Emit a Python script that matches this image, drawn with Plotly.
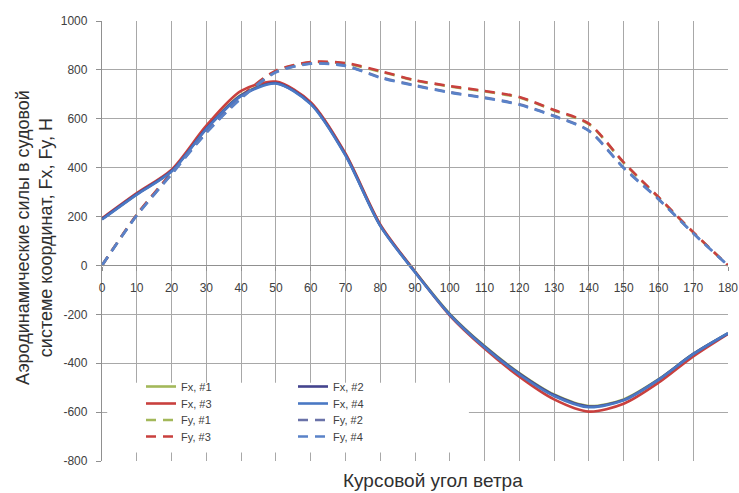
import plotly.graph_objects as go

angles = [0, 10, 20, 30, 40, 50, 60, 70, 80, 90, 100, 110, 120, 130, 140, 150, 160, 170, 180]

fx1 = [190, 292, 388, 562, 698, 748, 665, 455, 165, -25, -198, -330, -440, -528, -575, -548, -466, -362, -278]
fx2 = [190, 292, 386, 560, 696, 746, 662, 452, 163, -27, -200, -332, -442, -530, -577, -550, -467, -362, -278]
fx3 = [193, 296, 392, 572, 714, 752, 668, 458, 168, -25, -205, -340, -455, -548, -598, -566, -480, -372, -280]
fx4 = [188, 290, 384, 558, 693, 744, 660, 450, 162, -28, -202, -335, -446, -534, -580, -552, -468, -363, -277]

fy1 = [0, 207, 378, 548, 690, 795, 830, 826, 793, 757, 732, 712, 687, 634, 578, 420, 278, 135, 0]
fy2 = [0, 205, 374, 544, 685, 792, 826, 818, 770, 737, 709, 687, 659, 612, 552, 400, 272, 132, 0]
fy3 = [0, 208, 380, 550, 692, 797, 832, 828, 795, 758, 734, 714, 689, 636, 580, 422, 280, 136, 0]
fy4 = [0, 204, 373, 542, 683, 790, 825, 816, 768, 735, 707, 685, 657, 610, 550, 398, 271, 131, 0]

x_ticks = list(range(0, 181, 10))
y_ticks = list(range(-800, 1001, 200))

OLIVE = "#a3b85a"
RED = "#c9403e"
NAVY = "#44448e"
BLUE = "#4a78c4"
SLATE = "#6a72a8"
LBLUE = "#5a82c8"

W, H = 739, 493
ML, MT = 102, 21
PW, PH = 626, 440
MR = W - ML - PW
MB = H - MT - PH


def px_x(px):
    return (px - ML) / PW


def px_y(py):
    return (MT + PH - py) / PH


fig = go.Figure()

rows = [393, 410, 426.5, 443]
DASH = "10px,7px"
series = [
    ("Fx, #1", fx1, OLIVE, "solid", 0, 0),
    ("Fx, #3", fx3, RED, "solid", 0, 1),
    ("Fy, #1", fy1, OLIVE, DASH, 0, 2),
    ("Fy, #3", fy3, RED, DASH, 0, 3),
    ("Fx, #2", fx2, NAVY, "solid", 1, 0),
    ("Fx, #4", fx4, BLUE, "solid", 1, 1),
    ("Fy, #2", fy2, SLATE, DASH, 1, 2),
    ("Fy, #4", fy4, LBLUE, DASH, 1, 3),
]

LEGFONT = dict(family="Liberation Sans, Arial", size=11, color="#404040")
col_left = [141, 293]
legends = {}
for i, (name, y, color, dash, col, row) in enumerate(series):
    key = "legend" if i == 0 else f"legend{i + 1}"
    fig.add_trace(go.Scatter(
        x=angles, y=y, name=name, mode="lines", legend=key,
        line=dict(color=color, width=2.6, dash=dash, shape="spline", smoothing=0.8),
    ))
    legends[key] = dict(
        x=px_x(col_left[col]), y=px_y(rows[row] - 21), xanchor="left", yanchor="top",
        bgcolor="rgba(0,0,0,0)", font=LEGFONT, tracegroupgap=0,
    )

GRID = "#a8a8a8"
TICKFONT = dict(family="Liberation Sans, Arial", size=12, color="#404040")
TITLEFONT_Y = dict(family="Liberation Sans, Arial", size=18, color="#303030")
TITLEFONT_X = dict(family="Liberation Sans, Arial", size=19, color="#303030")

fig.update_layout(
    width=W, height=H,
    margin=dict(l=ML, r=MR, t=MT, b=MB, autoexpand=False),
    paper_bgcolor="white", plot_bgcolor="white",
    showlegend=True,
    xaxis=dict(
        range=[0, 180], tickvals=x_ticks, ticktext=[str(v) for v in x_ticks],
        anchor="free", position=800 / 1800, automargin=False,
        ticklabeloverflow="allow",
        showgrid=True, gridcolor=GRID, gridwidth=1.3,
        showline=True, linecolor="#909090", linewidth=1.3,
        ticks="outside", ticklen=4, tickcolor="#909090",
        ticklabelstandoff=7,
        tickfont=TICKFONT, zeroline=False,
    ),
    yaxis=dict(
        range=[-800, 1000], tickvals=y_ticks, ticktext=[str(v) for v in y_ticks],
        automargin=False,
        showgrid=True, gridcolor=GRID, gridwidth=1.3,
        showline=True, linecolor="#909090", linewidth=1.3,
        ticks="outside", ticklen=5, tickcolor="#909090",
        ticklabelstandoff=6,
        tickfont=TICKFONT, zeroline=False,
    ),
    shapes=[dict(
        type="rect", xref="x", yref="y", x0=1.5, x1=105.5, y0=-765, y1=-480,
        fillcolor="white", line=dict(width=0), layer="between",
    )],
    annotations=[
        dict(text="Аэродинамические силы в судовой<br>системе координат, Fx, Fy, Н",
             xref="paper", yref="paper", x=px_x(34), y=px_y(238),
             xanchor="center", yanchor="middle", textangle=-90, showarrow=False,
             font=TITLEFONT_Y),
        dict(text="Курсовой угол ветра",
             xref="paper", yref="paper", x=px_x(433), y=px_y(480),
             xanchor="center", yanchor="middle", showarrow=False, font=TITLEFONT_X),
    ],
    **legends,
)

fig.write_html(
    "out.html",
    config={"displayModeBar": False},
    post_script=(
        "document.documentElement.style.margin='0';"
        "document.body.style.margin='0';"
        "document.documentElement.style.overflow='hidden';"
        "document.body.style.overflow='hidden';"
    ),
)
